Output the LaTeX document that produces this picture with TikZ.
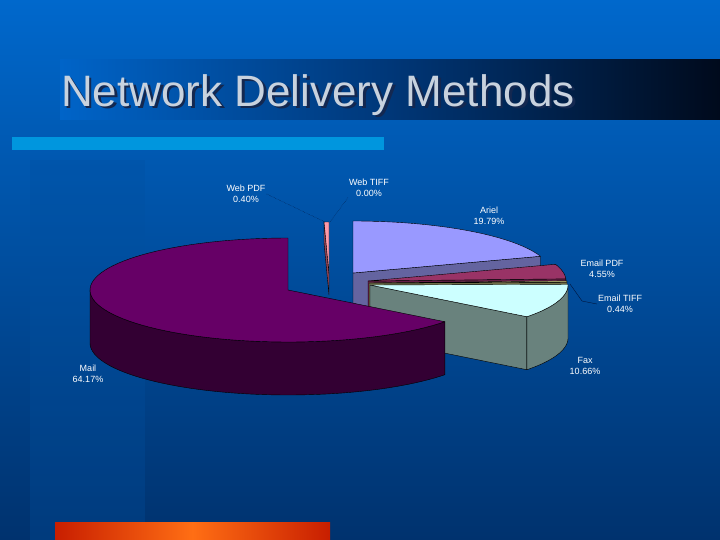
\documentclass[tikz,border=0pt]{standalone}
\usepackage{fontspec}
\setmainfont{Liberation Sans}
\definecolor{bgtop}{RGB}{0,104,204}
\definecolor{bgbot}{RGB}{0,50,110}
\definecolor{panel}{RGB}{0,80,160}
\definecolor{barA}{RGB}{0,100,200}
\definecolor{barB}{RGB}{0,55,120}
\definecolor{barC}{RGB}{0,10,28}
\definecolor{tshadow}{RGB}{20,40,80}
\definecolor{ttext}{RGB}{200,210,222}
\definecolor{lightbar}{RGB}{0,150,222}
\definecolor{redA}{RGB}{200,30,0}
\definecolor{redB}{RGB}{255,110,20}
\definecolor{arielside}{RGB}{100,100,160}
\definecolor{arieltop}{RGB}{153,153,255}
\definecolor{epdfside}{RGB}{100,30,70}
\definecolor{epdftop}{RGB}{153,51,102}
\definecolor{etiffside}{RGB}{110,110,70}
\definecolor{etifftop}{RGB}{170,170,110}
\definecolor{faxside}{RGB}{105,130,125}
\definecolor{faxtop}{RGB}{204,255,255}
\definecolor{wpdfside}{RGB}{150,70,90}
\definecolor{wpdftop}{RGB}{255,153,170}
\definecolor{mailside}{RGB}{51,0,51}
\definecolor{mailtop}{RGB}{102,0,102}
\definecolor{leader}{RGB}{0,20,60}
\begin{document}
\begin{tikzpicture}[x=1pt,y=-1pt,
  lab/.style={text=white,font=\fontsize{9}{10.5}\selectfont,align=center,inner sep=1pt},
  edge/.style={draw=black,line width=0.4pt,line join=round}]
\def\rx{198}\def\ry{52}\def\dd{53}
% background
\shade[top color=bgtop,bottom color=bgbot] (0,0) rectangle (720,540);
\useasboundingbox (0,0) rectangle (720,540);
\fill[panel,opacity=0.3] (30,160) rectangle (145,540);
% title bar
\shade[left color=barA,right color=barB] (60,60) rectangle (390,120);
\shade[left color=barB,right color=barC] (390,60) rectangle (720,120);
\node[anchor=west,text=tshadow,font=\fontsize{44}{46}\selectfont,inner sep=0] (titleshadow) at (63.5,97.5) {Network Delivery Methods};
\node[anchor=west,text=ttext,font=\fontsize{44}{46}\selectfont,inner sep=0] (title) at (61,95) {Network Delivery Methods};
\fill[lightbar] (12,137) rectangle (384,150);
\shade[left color=redA,right color=redA,middle color=redB] (55,522) rectangle (330,540);
% ---- slices
% Ariel: 0 .. 71.24
\def\cx{353}\def\cy{273}
\filldraw[edge,fill=arielside] (\cx,\cy) -- ({\cx+\rx*sin(71.24)},{\cy-\ry*cos(71.24)}) -- ++(0,\dd) -- (\cx,\cy+\dd) -- cycle;
\filldraw[edge,fill=arieltop] (\cx,\cy) -- plot[domain=0:71.24,samples=30] ({\cx+\rx*sin(\x)},{\cy-\ry*cos(\x)}) -- cycle;
% Email PDF: 71.24 .. 87.62
\def\cx{368}\def\cy{281}
\filldraw[edge,fill=epdfside] (\cx,\cy) -- ({\cx+\rx*sin(87.62)},{\cy-\ry*cos(87.62)}) -- ++(0,\dd) -- (\cx,\cy+\dd) -- cycle;
\filldraw[edge,fill=epdftop] (\cx,\cy) -- plot[domain=71.24:87.62,samples=20] ({\cx+\rx*sin(\x)},{\cy-\ry*cos(\x)}) -- cycle;
% Email TIFF: 87.62 .. 89.2
\def\cx{369}\def\cy{283}
\filldraw[edge,fill=etiffside] (\cx,\cy) -- ({\cx+\rx*sin(89.2)},{\cy-\ry*cos(89.2)}) -- ++(0,\dd) -- (\cx,\cy+\dd) -- cycle;
\filldraw[edge,fill=etifftop] (\cx,\cy) -- plot[domain=87.62:89.2,samples=5] ({\cx+\rx*sin(\x)},{\cy-\ry*cos(\x)}) -- cycle;
% Fax: 89.2 .. 127.6
\def\cx{370}\def\cy{285}
\filldraw[edge,fill=faxside] (\cx,\cy) -- ({\cx+\rx*sin(127.6)},{\cy-\ry*cos(127.6)}) -- ++(0,\dd) -- (\cx,\cy+\dd) -- cycle;
\filldraw[edge,fill=faxside] plot[domain=90:127.6,samples=30] ({\cx+\rx*sin(\x)},{\cy-\ry*cos(\x)}) -- plot[domain=127.6:90,samples=30] ({\cx+\rx*sin(\x)},{\cy+\dd-\ry*cos(\x)}) -- cycle;
\filldraw[edge,fill=faxtop] (\cx,\cy) -- plot[domain=89.2:127.6,samples=30] ({\cx+\rx*sin(\x)},{\cy-\ry*cos(\x)}) -- cycle;
% Web PDF: 358.56 .. 360
\def\cx{329}\def\cy{274}
\filldraw[edge,fill=wpdfside] (\cx,\cy) -- ({\cx+\rx*sin(358.56)},{\cy-\ry*cos(358.56)}) -- ++(0,21) -- (\cx,\cy+21) -- cycle;
\filldraw[edge,fill=wpdftop] (\cx,\cy) -- plot[domain=358.56:360,samples=4] ({\cx+\rx*sin(\x)},{\cy-\ry*cos(\x)}) -- cycle;
% Mail: 127.6 .. 360
\def\cx{288}\def\cy{290}
\filldraw[edge,fill=mailside] plot[domain=127.6:270,samples=60] ({\cx+\rx*sin(\x)},{\cy-\ry*cos(\x)}) -- plot[domain=270:127.6,samples=60] ({\cx+\rx*sin(\x)},{\cy+\dd-\ry*cos(\x)}) -- cycle;
\filldraw[edge,fill=mailtop] (\cx,\cy) -- plot[domain=127.6:360,samples=80] ({\cx+\rx*sin(\x)},{\cy-\ry*cos(\x)}) -- cycle;
% ---- labels
\node[lab] (lwebpdf) at (246,194) {Web PDF\\0.40\%};
\node[lab] (lwebtiff) at (369,188) {Web TIFF\\0.00\%};
\node[lab] (lariel) at (489,216) {Ariel\\19.79\%};
\node[lab] (lepdf) at (602,269) {Email PDF\\4.55\%};
\node[lab] (letiff) at (620,304) {Email TIFF\\0.44\%};
\node[lab] (lfax) at (585,366) {Fax\\10.66\%};
\node[lab] (lmail) at (88,374) {Mail\\64.17\%};
\coordinate (pwebpdf) at (325,222);
\coordinate (pwebtiff) at (330,222);
\coordinate (petiff) at (570,284);
\coordinate (ketiff) at (582,301);
\draw[densely dotted,leader] (lwebpdf.east) -- (pwebpdf);
\draw[densely dotted,leader] (lwebtiff.south west) -- (pwebtiff);
\draw[leader] (petiff) -- (ketiff) -- (letiff.west);
\end{tikzpicture}
\end{document}
